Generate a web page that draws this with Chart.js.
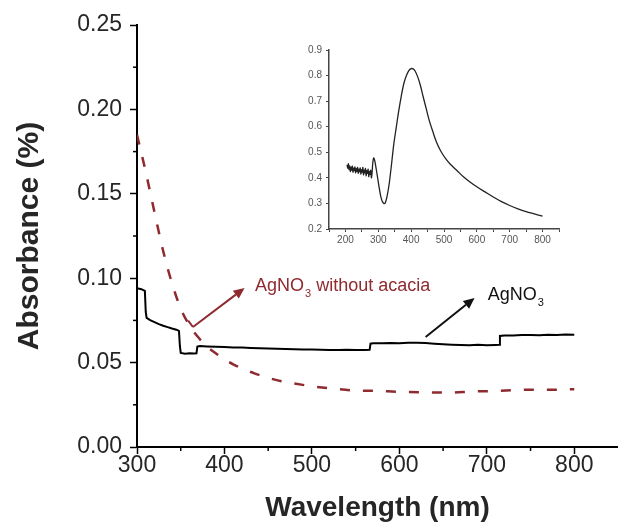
<!DOCTYPE html>
<html>
<head>
<meta charset="utf-8">
<script src="https://cdn.jsdelivr.net/npm/chart.js@4.4.1/dist/chart.umd.min.js"></script>
<style>
  body { margin: 0; background: #fff; }
  #wrap { position: relative; width: 618px; height: 525px; }
  #inset { position: absolute; left: 285px; top: 40px; }
</style>
</head>
<body>
<div id="wrap">
  <canvas id="main" width="618" height="525"></canvas>
  <canvas id="inset" width="285" height="215"></canvas>
</div>
<script>
/* Absorbance spectra: AgNO3 with / without acacia, plus inset spectrum */
const FONT = '"Liberation Sans", Arial, sans-serif';
const RED = '#8f2a2f';
const INK = '#262626';

// AgNO3 (solid black, stepped detector trace)
const agno3 = [
  [300, 0.094], [305, 0.0935], [309, 0.0925], [310, 0.0800], [311, 0.0765], [315, 0.0752],
  [320, 0.0740], [325, 0.0728], [330, 0.0718], [335, 0.0710], [340, 0.0702], [345, 0.0695],
  [348, 0.0688], [349, 0.0600], [350, 0.0557], [355, 0.0553], [360, 0.0556], [365, 0.0554],
  [368, 0.0555], [369, 0.0595], [372, 0.0598], [380, 0.0596], [390, 0.0594], [400, 0.0592],
  [410, 0.0590], [420, 0.0589], [430, 0.0587], [440, 0.0585], [450, 0.0583], [460, 0.0582],
  [470, 0.0580], [480, 0.0579], [490, 0.0577], [500, 0.0577], [510, 0.0576], [520, 0.0575],
  [530, 0.0575], [540, 0.0576], [550, 0.0575], [560, 0.0575], [566, 0.0576], [567, 0.0612],
  [570, 0.0614], [580, 0.0615], [590, 0.0616], [600, 0.0615], [610, 0.0618], [620, 0.0617],
  [630, 0.0616], [640, 0.0612], [650, 0.0609], [660, 0.0606], [670, 0.0604], [680, 0.0603],
  [690, 0.0606], [700, 0.0603], [710, 0.0605], [714, 0.0606], [715, 0.0658], [720, 0.0661],
  [730, 0.0660], [740, 0.0663], [750, 0.0664], [760, 0.0662], [770, 0.0665], [780, 0.0664],
  [790, 0.0666], [800, 0.0665]
];

// AgNO3 without acacia (dashed red)
const noAcacia = [
  [300, 0.185], [310, 0.163], [320, 0.139], [330, 0.116], [340, 0.097], [350, 0.082],
  [360, 0.072], [370, 0.065], [380, 0.0595], [390, 0.0555], [400, 0.052], [410, 0.049],
  [420, 0.0465], [435, 0.0435], [450, 0.041], [465, 0.039], [480, 0.0376], [500, 0.036],
  [520, 0.0348], [545, 0.0336], [575, 0.0332], [600, 0.0327], [630, 0.0324], [655, 0.0322],
  [685, 0.0329], [710, 0.0332], [740, 0.0339], [770, 0.0339], [800, 0.0342]
];

// inset spectrum
const insetSpec = [
  [205, 0.452], [207, 0.438], [209, 0.455], [211, 0.432], [213, 0.447], [215, 0.425],
  [217, 0.442], [219, 0.430], [221, 0.446], [223, 0.422], [225, 0.438], [227, 0.428],
  [229, 0.443], [231, 0.420], [233, 0.436], [235, 0.425], [237, 0.441], [239, 0.418],
  [241, 0.434], [243, 0.424], [245, 0.439], [247, 0.415], [249, 0.432], [251, 0.422],
  [253, 0.441], [255, 0.412], [257, 0.430], [259, 0.420], [261, 0.437], [263, 0.408],
  [265, 0.428], [267, 0.418], [269, 0.434], [271, 0.405], [273, 0.425], [275, 0.414],
  [277, 0.430], [279, 0.400], [281, 0.418], [283, 0.455], [286, 0.478], [289, 0.468],
  [293, 0.440], [298, 0.400], [303, 0.360], [308, 0.325], [313, 0.306], [318, 0.299],
  [322, 0.305], [327, 0.330], [333, 0.375], [340, 0.450], [347, 0.530], [355, 0.600],
  [362, 0.660], [370, 0.720], [378, 0.770], [386, 0.801], [393, 0.819], [400, 0.827],
  [406, 0.826], [412, 0.818], [420, 0.795], [428, 0.762], [436, 0.720], [445, 0.675],
  [455, 0.625], [465, 0.585], [477, 0.540], [490, 0.505], [505, 0.475], [520, 0.452],
  [540, 0.428], [560, 0.403], [580, 0.383], [600, 0.365], [625, 0.345], [650, 0.325],
  [675, 0.307], [700, 0.292], [725, 0.279], [750, 0.268], [775, 0.259], [800, 0.250]
];

const xTicks = [300, 350, 400, 450, 500, 550, 600, 650, 700, 750, 800, 850];
const yTicks = [0, 0.025, 0.05, 0.075, 0.1, 0.125, 0.15, 0.175, 0.2, 0.225, 0.25];
const insetXTicks = [150, 200, 250, 300, 350, 400, 450, 500, 550, 600, 650, 700, 750, 800, 850];
const insetYTicks = [0.2, 0.3, 0.4, 0.5, 0.6, 0.7, 0.8, 0.9];

const toXY = arr => arr.map(p => ({x: p[0], y: p[1]}));
const isMajorX = v => v % 100 === 0 && v <= 800;
const isMajorY = v => Math.round(v * 1000) % 50 === 0;

// arrows + labels, given in data units
const notes = [
  {from: [364, 0.0711], to: [423, 0.0942], color: RED, tail: true,
   text: ['AgNO', '3', ' without acacia'], at: [435, 0.0924]},
  {from: [630, 0.0652], to: [686, 0.0883], color: '#111', tail: false,
   text: ['AgNO', '3', ''], at: [701, 0.0871]}
];

function arrow(ctx, x1, y1, x2, y2, color, tail) {
  const a = Math.atan2(y2 - y1, x2 - x1);
  const hl = 11, hw = 5;
  ctx.save();
  ctx.strokeStyle = color;
  ctx.fillStyle = color;
  ctx.lineWidth = 2;
  ctx.beginPath();
  ctx.moveTo(x1, y1);
  ctx.lineTo(x2 - hl * Math.cos(a), y2 - hl * Math.sin(a));
  ctx.stroke();
  if (tail) {
    ctx.beginPath();
    ctx.moveTo(x1, y1);
    ctx.lineTo(x1 - 8 * Math.sin(-a), y1 - 8 * Math.cos(a));
    ctx.stroke();
  }
  ctx.beginPath();
  ctx.moveTo(x2, y2);
  ctx.lineTo(x2 - hl * Math.cos(a) + hw * Math.sin(a), y2 - hl * Math.sin(a) - hw * Math.cos(a));
  ctx.lineTo(x2 - hl * Math.cos(a) - hw * Math.sin(a), y2 - hl * Math.sin(a) + hw * Math.cos(a));
  ctx.closePath();
  ctx.fill();
  ctx.restore();
}

const extras = {
  id: 'extras',
  afterDraw(chart) {
    const {ctx, scales: {x, y}} = chart;
    // minor ticks
    ctx.save();
    ctx.strokeStyle = '#000';
    ctx.lineWidth = 1.5;
    xTicks.filter(v => !isMajorX(v) && v < 850).forEach(v => {
      const px = x.getPixelForValue(v);
      ctx.beginPath(); ctx.moveTo(px, y.bottom); ctx.lineTo(px, y.bottom + 4); ctx.stroke();
    });
    yTicks.filter(v => !isMajorY(v)).forEach(v => {
      const py = y.getPixelForValue(v);
      ctx.beginPath(); ctx.moveTo(x.left, py); ctx.lineTo(x.left - 4, py); ctx.stroke();
    });
    ctx.restore();

    notes.forEach(n => {
      arrow(ctx, x.getPixelForValue(n.from[0]), y.getPixelForValue(n.from[1]),
        x.getPixelForValue(n.to[0]), y.getPixelForValue(n.to[1]), n.color, n.tail);
      let tx = x.getPixelForValue(n.at[0]);
      const ty = y.getPixelForValue(n.at[1]);
      ctx.save();
      ctx.fillStyle = n.color;
      ctx.textBaseline = 'alphabetic';
      ctx.font = '18px ' + FONT;
      ctx.fillText(n.text[0], tx, ty);
      tx += ctx.measureText(n.text[0]).width + 1;
      ctx.font = '11px ' + FONT;
      ctx.fillText(n.text[1], tx, ty + 6);
      tx += ctx.measureText(n.text[1]).width;
      ctx.font = '18px ' + FONT;
      ctx.fillText(n.text[2], tx, ty);
      ctx.restore();
    });
  }
};

new Chart(document.getElementById('main'), {
  type: 'line',
  data: {
    datasets: [
      {label: 'AgNO3', data: toXY(agno3), borderColor: '#000', borderWidth: 2,
       pointRadius: 0, tension: 0},
      {label: 'AgNO3 without acacia', data: toXY(noAcacia), borderColor: RED, borderWidth: 2.5,
       borderDash: [10, 13], pointRadius: 0, cubicInterpolationMode: 'monotone'}
    ]
  },
  options: {
    responsive: false,
    animation: false,
    events: [],
    layout: {padding: {top: 25, right: 0, left: 0, bottom: 0}},
    plugins: {legend: {display: false}, tooltip: {enabled: false}},
    scales: {
      x: {
        type: 'linear', min: 300, max: 850,
        afterBuildTicks: s => { s.ticks = xTicks.map(v => ({value: v})); },
        afterFit: s => { s.height = 78; },
        ticks: {
          callback: v => isMajorX(v) ? String(v) : '',
          font: {family: FONT, size: 23}, color: INK,
          autoSkip: false, maxRotation: 0, padding: -2
        },
        grid: {drawOnChartArea: false, tickLength: 7, tickWidth: 1.5,
               tickColor: c => isMajorX(c.tick.value) ? '#000' : 'rgba(0,0,0,0)'},
        border: {color: '#000', width: 2},
        title: {display: true, text: 'Wavelength (nm)', color: INK,
                font: {family: FONT, size: 28, weight: 'bold'}, padding: {top: 0, bottom: 0}}
      },
      y: {
        min: 0, max: 0.25,
        afterBuildTicks: s => { s.ticks = yTicks.map(v => ({value: v})); },
        afterFit: s => { s.width = 137; },
        ticks: {
          callback: v => isMajorY(v) ? v.toFixed(2) : '',
          font: {family: FONT, size: 23}, color: INK, padding: 8
        },
        grid: {drawOnChartArea: false, tickLength: 7, tickWidth: 1.5,
               tickColor: c => isMajorY(c.tick.value) ? '#000' : 'rgba(0,0,0,0)'},
        border: {color: '#000', width: 2},
        title: {display: true, text: 'Absorbance (%)', color: INK,
                font: {family: FONT, size: 30, weight: 'bold'}, padding: {top: 12, bottom: 0}}
      }
    }
  },
  plugins: [extras]
});

new Chart(document.getElementById('inset'), {
  type: 'line',
  data: {
    datasets: [{data: toXY(insetSpec), borderColor: '#222', borderWidth: 1.3,
                pointRadius: 0, tension: 0.3}]
  },
  options: {
    responsive: false,
    animation: false,
    events: [],
    layout: {padding: {top: 10, right: 11, left: 0, bottom: 0}},
    plugins: {legend: {display: false}, tooltip: {enabled: false}},
    scales: {
      x: {
        type: 'linear', min: 150, max: 850,
        afterBuildTicks: s => { s.ticks = insetXTicks.map(v => ({value: v})); },
        afterFit: s => { s.height = 26; },
        ticks: {
          callback: v => (v % 100 === 0) ? String(v) : '',
          font: {family: FONT, size: 10}, color: '#555',
          autoSkip: false, maxRotation: 0, padding: 2
        },
        grid: {drawOnChartArea: false, tickLength: 3, tickColor: '#444'},
        border: {color: '#444', width: 1.5}
      },
      y: {
        min: 0.2, max: 0.9,
        afterBuildTicks: s => { s.ticks = insetYTicks.map(v => ({value: v})); },
        afterFit: s => { s.width = 44; },
        ticks: {
          callback: v => v.toFixed(1),
          font: {family: FONT, size: 10}, color: '#555', padding: 4
        },
        grid: {drawOnChartArea: false, tickLength: 3, tickColor: '#444'},
        border: {color: '#444', width: 1.5}
      }
    }
  }
});
</script>
</body>
</html>
